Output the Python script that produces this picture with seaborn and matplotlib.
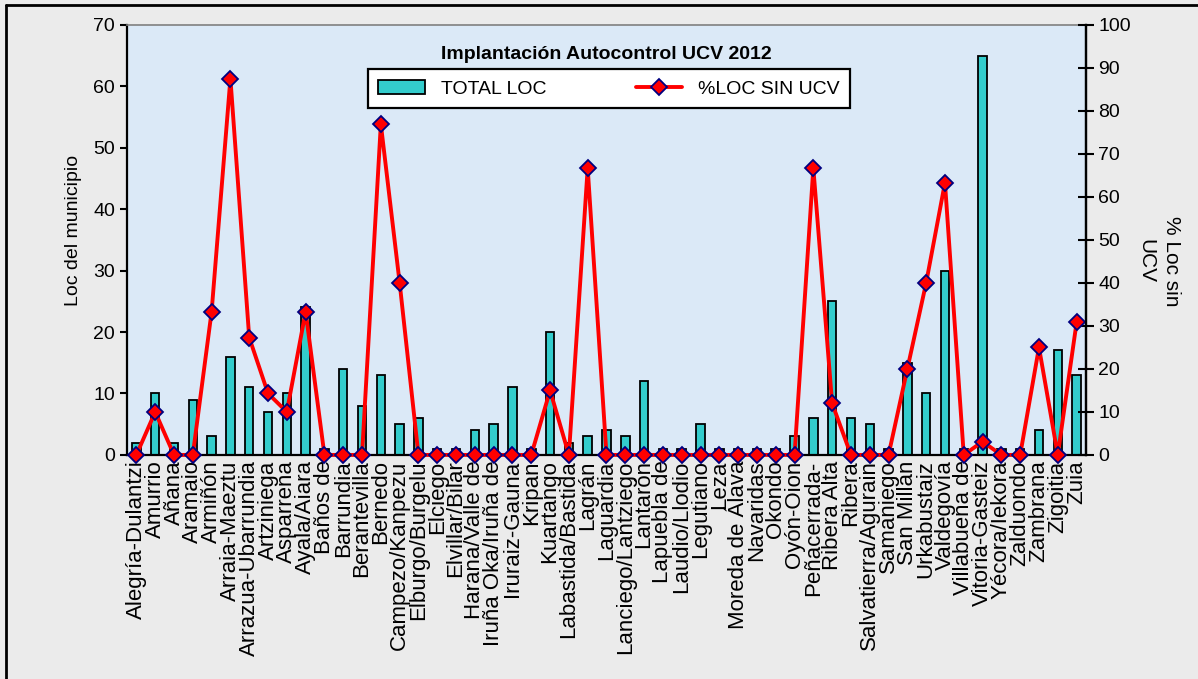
import numpy as np
import pandas as pd
import matplotlib
matplotlib.use('Agg')
import matplotlib.pyplot as plt
from matplotlib.lines import Line2D
from matplotlib.patches import Patch
import seaborn as sns

municipios = ['Alegría-Dulantzi', 'Amurrio', 'Añana', 'Aramaio', 'Armiñón',
              'Arraia-Maeztu', 'Arrazua-Ubarrundia', 'Artziniega', 'Asparrena',
              'Ayala/Aiara', 'Baños de', 'Barrundia', 'Berantevilla', 'Bernedo',
              'Campezo/Kanpezu', 'Elburgo/Burgelu', 'Elciego', 'Elvillar/Bilar',
              'Harana/Valle de', 'Iruña Oka/Iruña de', 'Iruraiz-Gauna', 'Kripan',
              'Kuartango', 'Labastida/Bastida', 'Lagrán', 'Laguardia',
              'Lanciego/Lantziego', 'Lantarón', 'Lapuebla de', 'Laudio/Llodio',
              'Legutiano', 'Leza', 'Moreda de Álava', 'Navaridas', 'Okondo',
              'Oyón-Oion', 'Peñacerrada-', 'Ribera Alta', 'Ribera',
              'Salvatierra/Agurain', 'Samaniego', 'San Millán', 'Urkabustaiz',
              'Valdegovía', 'Villabuena de', 'Vitoria-Gasteiz', 'Yécora/Iekora',
              'Zalduondo', 'Zambrana', 'Zigoitia', 'Zuia']

total_loc = [2, 10, 2, 9, 3, 16, 11, 7, 10, 24,
             1, 14, 8, 13, 5, 6, 1, 1, 4, 5,
             11, 1, 20, 2, 3, 4, 3, 12, 1, 1,
             5, 1, 1, 1, 1, 3, 6, 25, 6, 5,
             1, 15, 10, 30, 1, 65, 1, 1, 4, 17, 13]

pct_sin_ucv = [0, 10, 0, 0, 33.3, 87.5, 27.3, 14.3, 10, 33.3,
               0, 0, 0, 76.9, 40, 0, 0, 0, 0, 0,
               0, 0, 15, 0, 66.7, 0, 0, 0, 0, 0,
               0, 0, 0, 0, 0, 0, 66.7, 12, 0, 0,
               0, 20, 40, 63.3, 0, 3.1, 0, 0, 25, 0, 30.8]

df = pd.DataFrame({'municipio': municipios, 'total': total_loc, 'pct': pct_sin_ucv})
df['pos'] = np.arange(len(df))
n = len(df)

sns.set_style('white')
plt.rcParams['font.family'] = ['Liberation Sans', 'DejaVu Sans']
plt.rcParams['text.color'] = 'black'
plt.rcParams['axes.labelcolor'] = 'black'
plt.rcParams['xtick.color'] = 'black'
plt.rcParams['ytick.color'] = 'black'

fig = plt.figure(figsize=(11.98, 6.79), dpi=100)
fig.patch.set_facecolor('#ebebeb')
ax = fig.add_axes([0.106, 0.330, 0.8005, 0.6335])
ax.set_facecolor('#dbe9f7')

sns.barplot(data=df, x='municipio', y='total', ax=ax, color='#33cccc',
            edgecolor='black', linewidth=1.3, width=0.45, saturation=1)

ax2 = ax.twinx()
sns.lineplot(data=df, x='pos', y='pct', ax=ax2, color='red', linewidth=2.8,
             marker='D', markersize=8, markerfacecolor='red',
             markeredgecolor='#000080', markeredgewidth=1.3)
for ln in ax2.lines:
    ln.set_clip_on(False)

ax.set_xlim(-0.5, n - 0.5)
ax.set_ylim(0, 70)
ax2.set_ylim(0, 100)
ax.set_yticks(np.arange(0, 71, 10))
ax2.set_yticks(np.arange(0, 101, 10))

# x ticks: labels centred, tick marks at category boundaries
ax.tick_params(axis='x', which='major', length=0, labelsize=16, labelrotation=90, pad=4)
ax.set_xticks(np.arange(-0.5, n, 1), minor=True)
ax.tick_params(axis='x', which='minor', direction='inout', length=11, width=1.5, color='black')
ax.tick_params(axis='y', direction='out', length=5, width=1.5, labelsize=14, left=True,
               color='black', labelcolor='black')
ax2.tick_params(axis='y', direction='inout', length=11, width=1.5, labelsize=14, right=True,
                color='black', labelcolor='black')

ax.set_xlabel('')
ax2.set_xlabel('')
ax.set_ylabel('Loc del municipio', fontsize=14, ha='center', va='center')
ax.yaxis.set_label_coords(-0.056, 0.523)
ax2.set_ylabel('% Loc sin\nUCV', fontsize=15, rotation=270, ha='center', va='center',
               linespacing=1.4)
ax2.yaxis.set_label_coords(1.076, 0.45)

for s in ['left', 'bottom', 'right']:
    ax.spines[s].set_color('black')
    ax.spines[s].set_linewidth(1.6)
ax.spines['top'].set_color('#808080')
ax.spines['top'].set_linewidth(1.2)
ax2.spines['right'].set_color('black')
ax2.spines['right'].set_linewidth(1.6)
for s in ['left', 'bottom', 'top']:
    ax2.spines[s].set_visible(False)

ax2.text(0.5, 0.93, 'Implantación Autocontrol UCV 2012', transform=ax2.transAxes,
         ha='center', va='center', fontsize=14, fontweight='bold')

handles = [Patch(facecolor='#33cccc', edgecolor='black', linewidth=1.3),
           Line2D([], [], color='red', linewidth=2.8, marker='D', markersize=8,
                  markerfacecolor='red', markeredgecolor='#000080', markeredgewidth=1.3)]
leg = ax2.legend(handles, ['TOTAL LOC', '%LOC SIN UCV'], loc='center',
                 bbox_to_anchor=(0.5025, 0.851), ncol=2, fontsize=14,
                 frameon=True, fancybox=False, framealpha=1, edgecolor='black',
                 handlelength=2.4, columnspacing=4.6, borderpad=0.55,
                 borderaxespad=0)
leg.get_frame().set_linewidth(1.6)

# outer frame of the picture
fig.add_artist(Line2D([0.005, 0.005], [0, 0.993], transform=fig.transFigure, color='black', lw=2))
fig.add_artist(Line2D([0.005, 1], [0.993, 0.993], transform=fig.transFigure, color='black', lw=2))

fig.savefig('out.png', dpi=100, facecolor=fig.get_facecolor())
